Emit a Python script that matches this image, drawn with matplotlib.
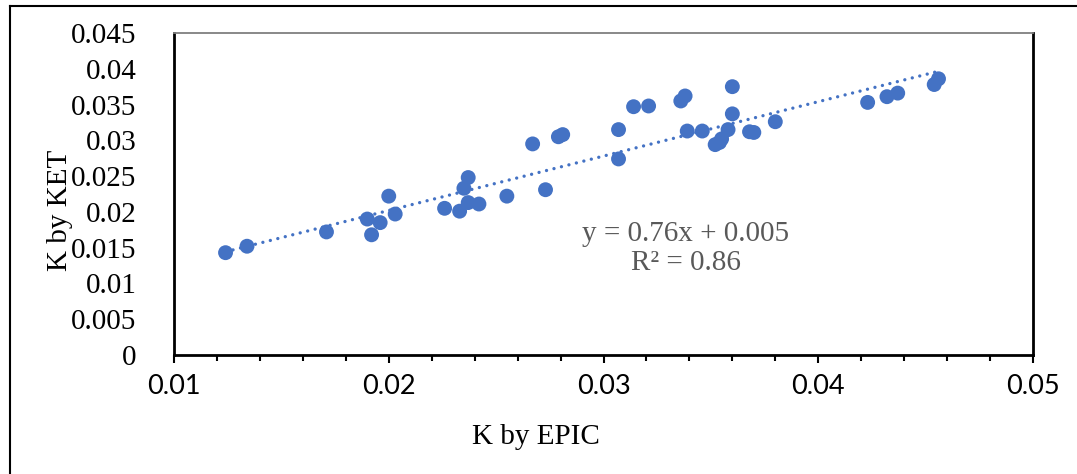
import numpy as np
import matplotlib
matplotlib.use("Agg")
import matplotlib.pyplot as plt
from matplotlib.lines import Line2D
from matplotlib.ticker import MultipleLocator

# K by EPIC (x) against K by KET (y)
k_epic = [0.0124, 0.0134, 0.0171, 0.0190, 0.0192, 0.0196, 0.0200, 0.0203,
          0.0226, 0.0233, 0.0235, 0.0237, 0.0237, 0.0242, 0.0255, 0.0267,
          0.0273, 0.0279, 0.0281, 0.0307, 0.0307, 0.0314, 0.0321, 0.0336,
          0.0338, 0.0339, 0.0346, 0.0352, 0.0354, 0.0355, 0.0358, 0.0360,
          0.0360, 0.0368, 0.0370, 0.0380, 0.0423, 0.0432, 0.0437, 0.0454,
          0.0456]
k_ket = [0.0143, 0.0152, 0.0172, 0.0190, 0.0168, 0.0185, 0.0222, 0.0197,
         0.0205, 0.0201, 0.0233, 0.0248, 0.0213, 0.0211, 0.0222, 0.0295,
         0.0231, 0.0305, 0.0308, 0.0315, 0.0274, 0.0347, 0.0348, 0.0355,
         0.0362, 0.0313, 0.0313, 0.0294, 0.0297, 0.0302, 0.0315, 0.0375,
         0.0337, 0.0312, 0.0311, 0.0326, 0.0353, 0.0361, 0.0366, 0.0378,
         0.0386]

# trendline as printed on the chart
slope = 0.76
intercept = 0.005
r2 = 0.86

y_ticks = [0, 0.005, 0.01, 0.015, 0.02, 0.025, 0.03, 0.035, 0.04, 0.045]
y_labels = ["0", "0.005", "0.01", "0.015", "0.02", "0.025", "0.03", "0.035", "0.04", "0.045"]
x_ticks = [0.01, 0.02, 0.03, 0.04, 0.05]
x_labels = ["0.01", "0.02", "0.03", "0.04", "0.05"]

blue = "#4472C4"
grey = "#595959"
W, H = 1077, 474

fig = plt.figure(figsize=(W / 100, H / 100), dpi=100)
ax = fig.add_axes([174 / W, 1 - 355 / H, (1033 - 174) / W, (355 - 33) / H])

x = np.array(k_epic)
xs = np.array([x.min(), x.max()])
ax.plot(xs, slope * xs + intercept, color=blue, lw=2.4,
        linestyle=(0, (0.01, 2.3)), dash_capstyle="round", zorder=2)
ax.scatter(k_epic, k_ket, s=115, color=blue, edgecolors="none", zorder=3)

ax.set_xlim(0.01, 0.05)
ax.set_ylim(0, 0.045)
ax.set_xticks(x_ticks)
ax.set_xticklabels(x_labels, family="Lato", fontsize=19.5)
ax.xaxis.set_minor_locator(MultipleLocator(0.002))
ax.tick_params(axis="x", which="major", direction="out", length=6, width=1.5, pad=8)
ax.tick_params(axis="x", which="minor", direction="out", length=4, width=1.5)
ax.set_yticks(y_ticks)
ax.set_yticklabels(y_labels, family="Liberation Serif", fontsize=21)
ax.tick_params(axis="y", length=0, pad=27)

for side in ["left", "bottom", "right"]:
    ax.spines[side].set_linewidth(2)
    ax.spines[side].set_color("black")
ax.spines["top"].set_linewidth(1.3)
ax.spines["top"].set_color("#7f7f7f")

ax.set_xlabel("K by EPIC", family="Liberation Serif", fontsize=21)
ax.xaxis.set_label_coords(0.421, -0.215)
ax.set_ylabel("K by KET", family="Liberation Serif", fontsize=21)
ax.yaxis.set_label_coords(-0.118, 0.45)

ax.text(0.596, 0.33, f"y = {slope}x + {intercept}\nR² = {r2}", transform=ax.transAxes,
        ha="center", va="center", family="Liberation Serif", fontsize=21,
        color=grey, linespacing=1.15)

# outer frame (only left and top edges are inside the picture)
fig.add_artist(Line2D([10 / W, 10 / W], [0, 1 - 6 / H], color="black", lw=1.5))
fig.add_artist(Line2D([10 / W, 1], [1 - 6 / H, 1 - 6 / H], color="black", lw=1.5))

fig.savefig("out.png", dpi=100)
